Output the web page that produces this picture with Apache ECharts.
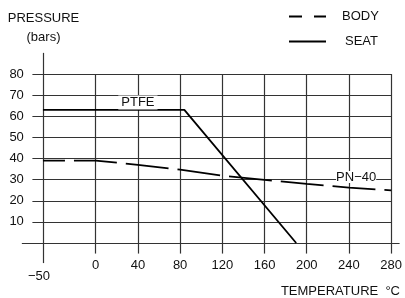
<!DOCTYPE html>
<html>
<head>
<meta charset="utf-8">
<script src="https://cdn.jsdelivr.net/npm/echarts@6/dist/echarts.min.js"></script>
<style>
html, body { margin: 0; padding: 0; background: #fff; }
#chart { width: 405px; height: 298px; }
</style>
</head>
<body>
<div id="chart"></div>
<script>
// tick values shown on the axes
const xTicks = [-50, 0, 40, 80, 120, 160, 200, 240, 280];
const yTicks = [10, 20, 30, 40, 50, 60, 70, 80];

// SEAT (PTFE) curve
const seatTemp = [-50, 84, 190];
const seatPressure = [63, 63, 0];

// BODY (PN-40) curve
const bodyTemp = [-50, 0, 40, 80, 120, 160, 200, 240, 280];
const bodyPressure = [39, 39, 37, 34.7, 31.9, 29.9, 28, 26.2, 24.9];

const chart = echarts.init(document.getElementById("chart"));
const FONT = "Liberation Sans, Arial, sans-serif";
const INK = "#111";

// grid lines drawn from the tick lists
const gridLines = [];
xTicks.forEach(function (x) {
	if (x === -50) {
		gridLines.push([{ coord: [x, -9.5] }, { coord: [x, 90] }]); // y axis line
	} else {
		gridLines.push([{ coord: [x, -5] }, { coord: [x, 80] }]);
	}
});
yTicks.forEach(function (y) {
	gridLines.push([{ coord: [-60, y] }, { coord: [280, y] }]);
});
gridLines.push([{ coord: [-70, 0] }, { coord: [288, 0] }]); // x axis line

const option = {
	animation: false,
	textStyle: { fontFamily: FONT },
	title: [
		{
			text: "PRESSURE\n(bars)",
			left: 43.5,
			top: 8.5,
			padding: 0,
			textAlign: "center",
			textStyle: { fontSize: 13, fontWeight: "normal", color: INK, lineHeight: 19, fontFamily: FONT },
		},
		{
			text: "TEMPERATURE  °C",
			right: 5,
			top: 284.5,
			padding: 0,
			textStyle: { fontSize: 13, fontWeight: "normal", color: INK, fontFamily: FONT },
		},
	],
	legend: {
		orient: "vertical",
		left: 288,
		top: 10,
		padding: 0,
		itemWidth: 37,
		itemHeight: 14,
		itemGap: 12,
		itemStyle: { opacity: 0 },
		textStyle: { fontSize: 13, color: INK, padding: [0, 0, 0, 11] },
		data: [
			{ name: "BODY", lineStyle: { type: [13, 12], dashOffset: 0 } },
			{ name: "SEAT", textStyle: { padding: [0, 0, 0, 14] } },
		],
	},
	grid: { left: 21.85, right: 4.54, top: 52.875, bottom: 33.875 },
	xAxis: {
		type: "value",
		min: -70,
		max: 288,
		interval: 10,
		axisLine: { show: false },
		axisTick: { show: false },
		splitLine: { show: false },
		axisLabel: {
			margin: -5,
			fontSize: 13,
			color: INK,
			formatter: function (v) {
				if (v === -50) return "{low|−50}";
				return xTicks.indexOf(v) >= 0 ? String(v) : "";
			},
			rich: { low: { fontSize: 13, color: INK, padding: [11, 8, 0, 0] } },
		},
	},
	yAxis: {
		type: "value",
		min: -10,
		max: 90,
		interval: 10,
		axisLine: { show: false },
		axisTick: { show: false },
		splitLine: { show: false },
		axisLabel: {
			margin: -2,
			fontSize: 13,
			color: INK,
			formatter: function (v) {
				return yTicks.indexOf(v) >= 0 ? String(v) : "";
			},
		},
	},
	series: [
		{
			name: "grid",
			type: "line",
			data: [],
			markLine: {
				z: 1,
				silent: true,
				symbol: ["none", "none"],
				label: { show: false },
				lineStyle: { color: "#333", width: 1.2, type: "solid" },
				data: gridLines,
			},
		},
		{
			name: "BODY",
			type: "line",
			symbol: "none",
			z: 3,
			color: "#000",
			lineStyle: { color: "#000", width: 1.8, type: [43, 9], dashOffset: 21 },
			data: bodyTemp.map((t, i) => [t, bodyPressure[i]]),
			markPoint: {
				z: 10,
				symbol: "rect",
				symbolSize: 1,
				itemStyle: { color: "rgba(0,0,0,0)" },
				label: {
					show: true,
					position: "inside",
					formatter: "PN−40",
					color: INK,
					fontSize: 13,
					lineHeight: 12,
					backgroundColor: "#fff",
					padding: 0,
				},
				data: [{ coord: [246.8, 31.2] }],
			},
		},
		{
			name: "SEAT",
			type: "line",
			symbol: "none",
			z: 3,
			color: "#000",
			lineStyle: { color: "#000", width: 1.8 },
			data: seatTemp.map((t, i) => [t, seatPressure[i]]),
			markPoint: {
				z: 10,
				symbol: "rect",
				symbolSize: 1,
				itemStyle: { color: "rgba(0,0,0,0)" },
				label: {
					show: true,
					position: "inside",
					formatter: "PTFE",
					color: INK,
					fontSize: 13,
					lineHeight: 12,
					backgroundColor: "#fff",
					padding: [2, 3, 0, 3],
				},
				data: [{ coord: [40, 66.5] }],
			},
		},
	],
};

chart.setOption(option);
</script>
</body>
</html>
